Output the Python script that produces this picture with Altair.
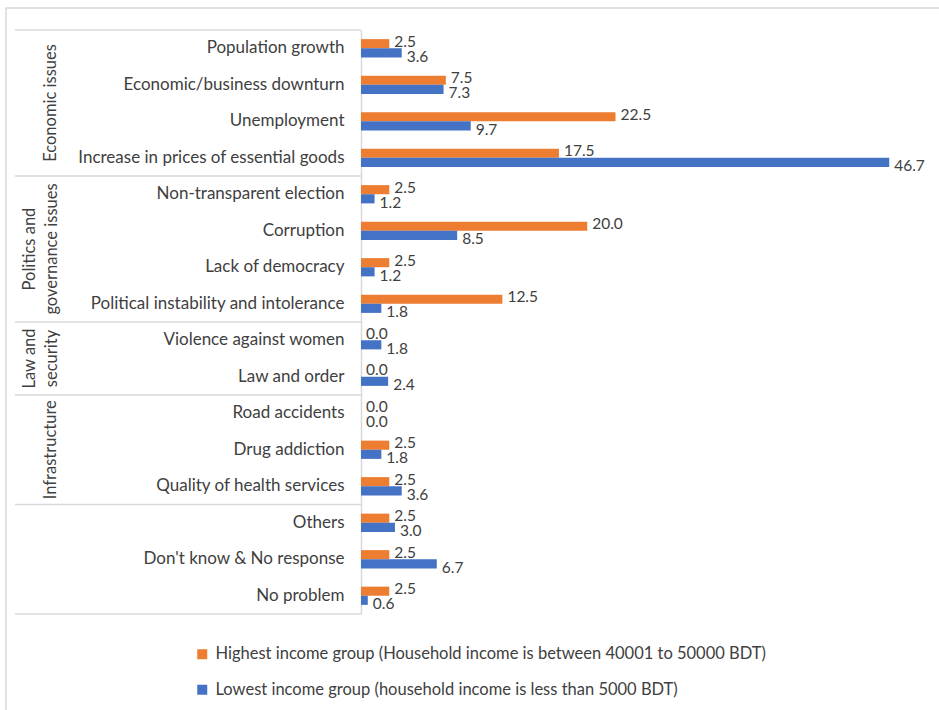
import altair as alt
import pandas as pd

categories = [
    "Population growth",
    "Economic/business downturn",
    "Unemployment",
    "Increase in prices of essential goods",
    "Non-transparent election",
    "Corruption",
    "Lack of democracy",
    "Political instability and intolerance",
    "Violence against women",
    "Law and order",
    "Road  accidents",
    "Drug addiction",
    "Quality of health services",
    "Others",
    "Don't know & No response",
    "No problem",
]
highest = [2.5, 7.5, 22.5, 17.5, 2.5, 20.0, 2.5, 12.5, 0.0, 0.0, 0.0, 2.5, 2.5, 2.5, 2.5, 2.5]
lowest = [3.6, 7.3, 9.7, 46.7, 1.2, 8.5, 1.2, 1.8, 1.8, 2.4, 0.0, 1.8, 3.6, 3.0, 6.7, 0.6]

group_names = [["Economic issues"], ["Politics and", "governance issues"], ["Law and", "security"], ["Infrastructure"], []]
group_sizes = [4, 4, 2, 3, 3]

s_high = "Highest income group (Household income is between 40001 to 50000 BDT)"
s_low = "Lowest income group (household income is less than 5000 BDT)"
series = [s_high, s_low]
colors = ["#ED7D31", "#4472C4"]

FONT = "Lato"
TXT = "#404040"
GRID = "#d9d9d9"
W, H = 578, 584
STEP = H / len(categories)

rows = []
for c, h, l in zip(categories, highest, lowest):
    rows.append({"category": c, "series": s_high, "value": h, "label": f"{h:.1f}"})
    rows.append({"category": c, "series": s_low, "value": l, "label": f"{l:.1f}"})
df = pd.DataFrame(rows)

y_enc = alt.Y(
    "category:N",
    sort=categories,
    scale=alt.Scale(paddingInner=0, paddingOuter=0),
    axis=alt.Axis(
        title=None, ticks=False, labelPadding=17, labelFont=FONT, labelFontSize=17,
        labelColor=TXT, domainColor=GRID, domainWidth=1.5, labelLimit=500,
    ),
)
yoff = alt.YOffset("series:N", sort=series, scale=alt.Scale(paddingInner=0, paddingOuter=1))
x_enc = alt.X("value:Q", scale=alt.Scale(domain=[0, 51.1]), axis=None)

base = alt.Chart(df)

bars = base.mark_bar().encode(
    y=y_enc,
    yOffset=yoff,
    x=x_enc,
    color=alt.Color(
        "series:N",
        sort=series,
        scale=alt.Scale(domain=series, range=colors),
        legend=alt.Legend(
            title=None, orient="none", legendX=-167, legendY=616, direction="vertical",
            symbolType="square", symbolSize=100, symbolStrokeWidth=0, labelFont=FONT,
            labelFontSize=16.5, labelColor=TXT, rowPadding=18.5, labelOffset=5, labelLimit=1000,
            padding=0,
        ),
    ),
)

lab_high = base.transform_filter(alt.datum.series == s_high).mark_text(
    align="left", baseline="middle", dx=5, dy=-2, font=FONT, fontSize=15.5, color=TXT
).encode(y=alt.Y("category:N", sort=categories), yOffset=yoff, x=x_enc, text="label:N")
lab_low = base.transform_filter(alt.datum.series == s_low).mark_text(
    align="left", baseline="middle", dx=5, dy=4, font=FONT, fontSize=15.5, color=TXT
).encode(y=alt.Y("category:N", sort=categories), yOffset=yoff, x=x_enc, text="label:N")

# group boundary lines
starts = []
i = 0
for n in group_sizes:
    starts.append(categories[i])
    i += n
bdf = pd.DataFrame({"category": starts})
rules_top = alt.Chart(bdf).mark_rule(color=GRID, strokeWidth=1.5).encode(
    y=alt.Y("category:N", sort=categories, bandPosition=0),
    x=alt.value(-346), x2=alt.value(0),
)
rules_bot = alt.Chart(pd.DataFrame({"category": [categories[-1]]})).mark_rule(color=GRID, strokeWidth=1.5).encode(
    y=alt.Y("category:N", sort=categories, bandPosition=1),
    x=alt.value(-346), x2=alt.value(0),
)

one = pd.DataFrame({"a": [0]})
frame = alt.Chart(one).mark_rect(fillOpacity=0, stroke=GRID, strokeWidth=1.5).encode(
    x=alt.value(-355), x2=alt.value(900), y=alt.value(-22), y2=alt.value(900)
)

group_layers = []
start = 0
for names, n in zip(group_names, group_sizes):
    cy = (start + n / 2) * STEP
    if len(names) == 1:
        xs = [-310]
    else:
        xs = [-331, -309]
    for nm, xx in zip(names, xs):
        group_layers.append(
            alt.Chart(one).mark_text(
                angle=270, align="center", baseline="middle", font=FONT, fontSize=16.5, color=TXT
            ).encode(x=alt.value(xx), y=alt.value(cy), text=alt.value(nm))
        )
    start += n

chart = alt.layer(frame, rules_top, rules_bot, bars, lab_high, lab_low, *group_layers).properties(
    width=W, height=H,
    autosize=alt.AutoSizeParams(type="none"),
    padding={"left": 361, "top": 30, "right": 0, "bottom": 96},
    background="white",
).configure_view(stroke=None)

chart.save("out.html", embed_options={"renderer": "svg", "actions": False})
